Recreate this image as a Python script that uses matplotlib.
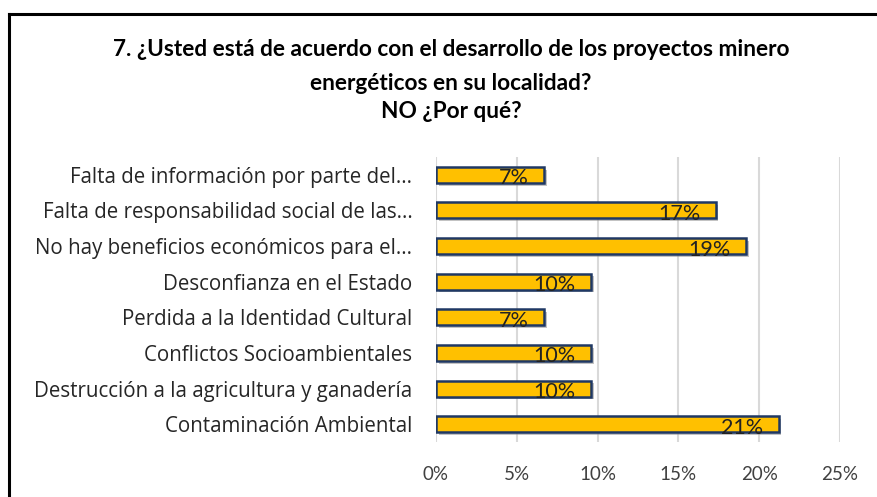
import numpy as np
import matplotlib
matplotlib.use('Agg')
import matplotlib.pyplot as plt
import matplotlib.patheffects as pe
from matplotlib.lines import Line2D

plt.rcParams['font.family'] = ['Lato', 'DejaVu Sans']

# categories, bottom to top as drawn
categorias = ['Contaminación Ambiental',
              'Destrucción a la agricultura y ganadería',
              'Conflictos Socioambientales',
              'Perdida a la Identidad Cultural',
              'Desconfianza en el Estado',
              'No hay beneficios económicos para el...',
              'Falta de responsabilidad social de las...',
              'Falta de información por parte del...']
valores = [21.2, 9.6, 9.6, 6.7, 9.6, 19.2, 17.3, 6.7]
etiquetas = ['21%', '10%', '10%', '7%', '10%', '19%', '17%', '7%']
xticks = [0, 5, 10, 15, 20, 25]

fig = plt.figure(figsize=(8.78, 4.97), dpi=100)
ax = fig.add_axes([436/878, 1-442/497, (840-436)/878, (442-157)/497])

y = np.arange(len(categorias))
sombra = [pe.SimplePatchShadow(offset=(2, -2), shadow_rgbFace='#888888', alpha=0.5), pe.Normal()]
barras = ax.barh(y, valores, height=0.45, color='#FFC000', edgecolor='#1F3864',
                 linewidth=1.8, zorder=3)
for b in barras:
    b.set_path_effects(sombra)
for yi, v, t in zip(y, valores, etiquetas):
    ax.text(v - 0.95, yi - 0.1, t, ha='right', va='center', fontsize=15.5,
            color='#222222', zorder=4)

ax.set_xlim(0, 25)
ax.set_ylim(-0.5, len(categorias) - 0.5)
ax.set_xticks(xticks)
ax.set_xticklabels([str(t) + '%' for t in xticks], fontsize=13.5, color='#404040')
ax.set_yticks(y)
ax.set_yticklabels(categorias, fontsize=14.8, color='#262626', family=['Open Sans', 'DejaVu Sans'])
ax.tick_params(axis='both', length=0)
ax.tick_params(axis='x', pad=17)
ax.tick_params(axis='y', pad=17)
ax.grid(axis='x', color='#D9D9D9', linewidth=1.5, zorder=0)
for s in ax.spines.values():
    s.set_visible(False)

fig.text(451/878, 1-50/497, '7. ¿Usted está de acuerdo con el desarrollo de los proyectos minero',
         ha='center', va='center', fontsize=16.3, fontweight='bold')
fig.text(451/878, 1-83/497, 'energéticos en su localidad?',
         ha='center', va='center', fontsize=16.3, fontweight='bold')
fig.text(451/878, 1-112/497, 'NO ¿Por qué?',
         ha='center', va='center', fontsize=16.3, fontweight='bold')

# border of the original chart box (left and top only visible)
fig.add_artist(Line2D([9/878, 9/878], [0, 1-14/497], color='black', linewidth=2.2,
                      transform=fig.transFigure))
fig.add_artist(Line2D([9/878, 1], [1-14/497, 1-14/497], color='black', linewidth=2.2,
                      transform=fig.transFigure))

fig.savefig('out.png', dpi=100)
